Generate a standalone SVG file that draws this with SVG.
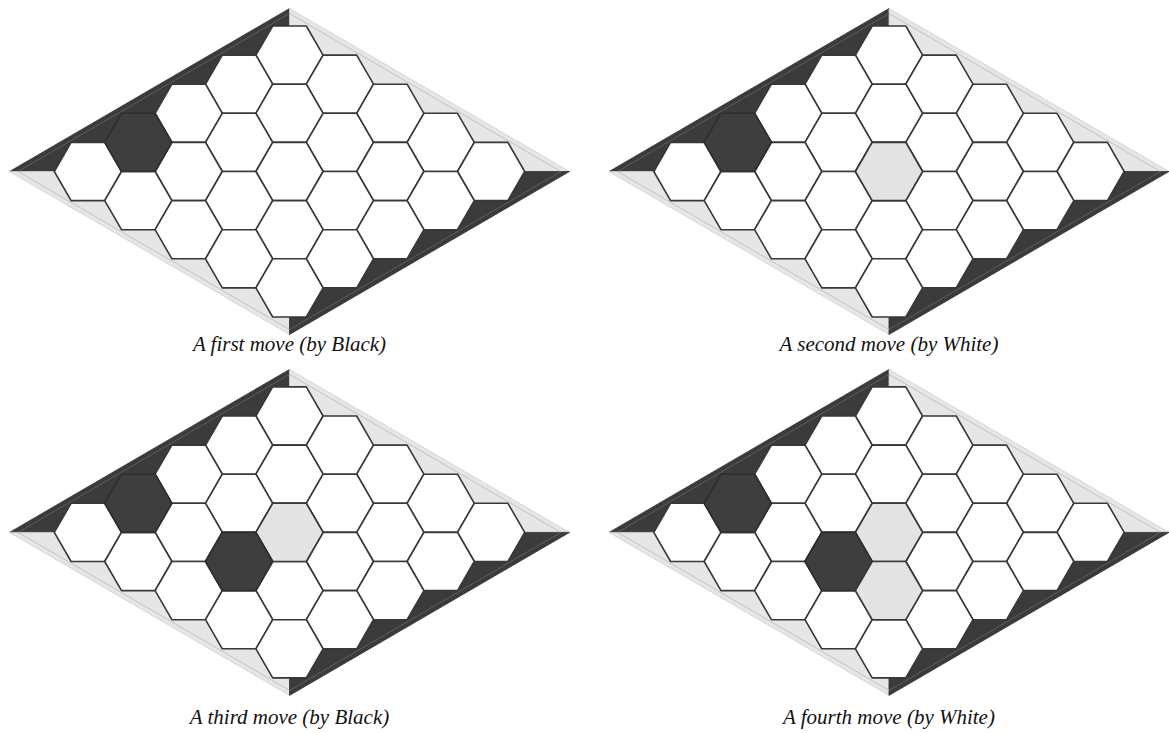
<svg xmlns="http://www.w3.org/2000/svg" xmlns:xlink="http://www.w3.org/1999/xlink" width="1169" height="733" viewBox="0 0 1169 733">
<style>
.cell{fill:#ffffff;stroke:#383838;stroke-width:1.6;stroke-linejoin:round}
.blk{fill:#3e3e3e;stroke:#2e2e2e;stroke-width:1.6;stroke-linejoin:round}
.wht{fill:#e3e3e3;stroke:#383838;stroke-width:1.6;stroke-linejoin:round}
.dk{fill:#3b3b3b;stroke:#333;stroke-width:0.8}
.lt{fill:#e6e6e6;stroke:#cfcfcf;stroke-width:0.8}
.dkin{stroke:#5e5e5e;stroke-width:1;fill:none}
.ltin{stroke:#c2c2c2;stroke-width:1;fill:none}
.cap{font-family:"Liberation Serif","Times New Roman",serif;font-style:italic;font-size:21px;fill:#111;text-anchor:middle}
</style>
<defs>
<polygon id="hex" points="-33.6,0 -16.8,-29.1 16.8,-29.1 33.6,0 16.8,29.1 -16.8,29.1"/>
<g id="board">
<polygon class="dk" points="0,-163 -280,0 -235.2,0 -218.4,-29.1 -184.8,-29.1 -168,-58.2 -134.4,-58.2 -117.6,-87.3 -84,-87.3 -67.2,-116.4 -33.6,-116.4 -16.8,-145.5 0,-145.5"/>
<polygon class="lt" points="0,-163 280,0 235.2,0 218.4,-29.1 184.8,-29.1 168,-58.2 134.4,-58.2 117.6,-87.3 84,-87.3 67.2,-116.4 33.6,-116.4 16.8,-145.5 0,-145.5"/>
<polygon class="lt" points="0,163 -280,0 -235.2,0 -218.4,29.1 -184.8,29.1 -168,58.2 -134.4,58.2 -117.6,87.3 -84,87.3 -67.2,116.4 -33.6,116.4 -16.8,145.5 0,145.5"/>
<polygon class="dk" points="0,163 280,0 235.2,0 218.4,29.1 184.8,29.1 168,58.2 134.4,58.2 117.6,87.3 84,87.3 67.2,116.4 33.6,116.4 16.8,145.5 0,145.5"/>
<line class="dkin" x1="0" y1="-158" x2="-271.4" y2="0"/>
<line class="ltin" x1="0" y1="-158" x2="271.4" y2="0"/>
<line class="ltin" x1="0" y1="158" x2="-271.4" y2="0"/>
<line class="dkin" x1="0" y1="158" x2="271.4" y2="0"/>
<use xlink:href="#hex" class="cell" x="0" y="-116.4"/>
<use xlink:href="#hex" class="cell" x="50.4" y="-87.3"/>
<use xlink:href="#hex" class="cell" x="100.8" y="-58.2"/>
<use xlink:href="#hex" class="cell" x="151.2" y="-29.1"/>
<use xlink:href="#hex" class="cell" x="201.6" y="0"/>
<use xlink:href="#hex" class="cell" x="-50.4" y="-87.3"/>
<use xlink:href="#hex" class="cell" x="0" y="-58.2"/>
<use xlink:href="#hex" class="cell" x="50.4" y="-29.1"/>
<use xlink:href="#hex" class="cell" x="100.8" y="0"/>
<use xlink:href="#hex" class="cell" x="151.2" y="29.1"/>
<use xlink:href="#hex" class="cell" x="-100.8" y="-58.2"/>
<use xlink:href="#hex" class="cell" x="-50.4" y="-29.1"/>
<use xlink:href="#hex" class="cell" x="0" y="0"/>
<use xlink:href="#hex" class="cell" x="50.4" y="29.1"/>
<use xlink:href="#hex" class="cell" x="100.8" y="58.2"/>
<use xlink:href="#hex" class="cell" x="-151.2" y="-29.1"/>
<use xlink:href="#hex" class="cell" x="-100.8" y="0"/>
<use xlink:href="#hex" class="cell" x="-50.4" y="29.1"/>
<use xlink:href="#hex" class="cell" x="0" y="58.2"/>
<use xlink:href="#hex" class="cell" x="50.4" y="87.3"/>
<use xlink:href="#hex" class="cell" x="-201.6" y="0"/>
<use xlink:href="#hex" class="cell" x="-151.2" y="29.1"/>
<use xlink:href="#hex" class="cell" x="-100.8" y="58.2"/>
<use xlink:href="#hex" class="cell" x="-50.4" y="87.3"/>
<use xlink:href="#hex" class="cell" x="0" y="116.4"/>
</g>
</defs>
<rect width="1169" height="733" fill="#ffffff"/>
<g id="board1" transform="translate(289.5,171.5)">
<use xlink:href="#board"/>
<use xlink:href="#hex" class="blk" x="-151.2" y="-29.1"/>
</g>
<g id="board2" transform="translate(889,171.5)">
<use xlink:href="#board"/>
<use xlink:href="#hex" class="blk" x="-151.2" y="-29.1"/>
<use xlink:href="#hex" class="wht" x="0" y="0"/>
</g>
<g id="board3" transform="translate(289.5,532.4)">
<use xlink:href="#board"/>
<use xlink:href="#hex" class="blk" x="-151.2" y="-29.1"/>
<use xlink:href="#hex" class="wht" x="0" y="0"/>
<use xlink:href="#hex" class="blk" x="-50.4" y="29.1"/>
</g>
<g id="board4" transform="translate(889,532.4)">
<use xlink:href="#board"/>
<use xlink:href="#hex" class="blk" x="-151.2" y="-29.1"/>
<use xlink:href="#hex" class="wht" x="0" y="0"/>
<use xlink:href="#hex" class="blk" x="-50.4" y="29.1"/>
<use xlink:href="#hex" class="wht" x="0" y="58.2"/>
</g>
<g id="captions">
<text class="cap" x="289.5" y="351">A first move (by Black)</text>
<text class="cap" x="889" y="351">A second move (by White)</text>
<text class="cap" x="289.5" y="724">A third move (by Black)</text>
<text class="cap" x="889" y="724">A fourth move (by White)</text>
</g>
</svg>
